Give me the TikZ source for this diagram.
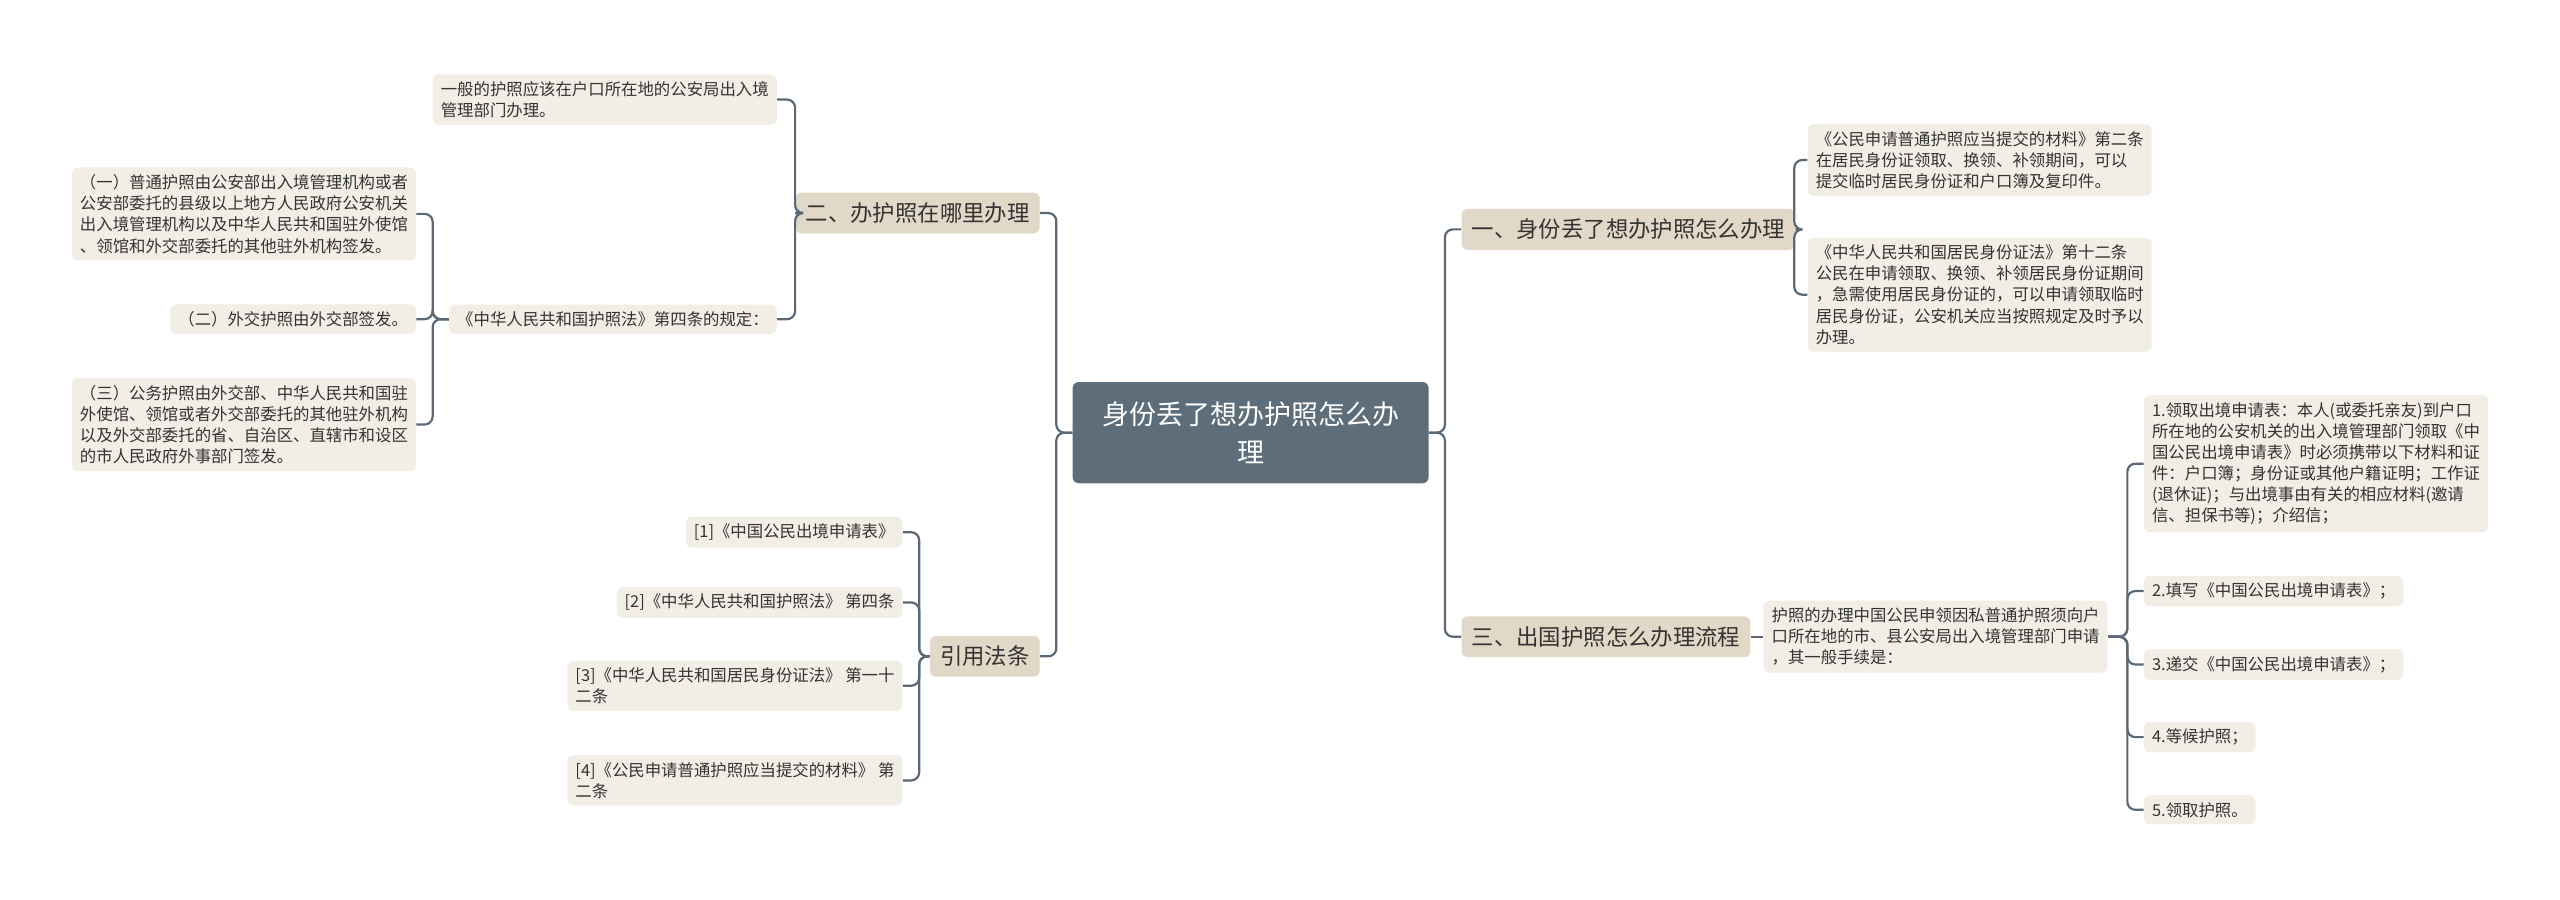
\documentclass[tikz,border=0pt]{standalone}
\usepackage{fontspec}
\setmainfont{Noto Sans CJK SC}
\begin{document}
\begin{tikzpicture}[x=0.8165pt,y=-0.8165pt,
 leaf/.style={fill=leafc,rounded corners=3pt,align=left,inner xsep=4pt,inner ysep=3.5pt,font=\fontsize{8.2}{10.6}\selectfont,text=txt},
 lone/.style={fill=l1c,rounded corners=3pt,inner xsep=5pt,inner ysep=5pt,font=\fontsize{11.2}{14}\selectfont,text=txt},
 conn/.style={draw=linec,line width=1.1pt,rounded corners=4pt}]
\definecolor{leafc}{HTML}{F2EEE6}
\definecolor{l1c}{HTML}{E2D8C8}
\definecolor{linec}{HTML}{5A6975}
\definecolor{txt}{HTML}{333333}
\definecolor{cen}{HTML}{5D6E7A}
\useasboundingbox[fill=white] (0,0) rectangle (1568,551);
% center
\node[fill=cen,rounded corners=3pt,text=white,align=center,minimum width=218*0.8165pt,minimum height=62*0.8165pt,font=\fontsize{13.5}{19}\selectfont] (c) at (766,265) {身份丢了想办护照怎么办\\理};
% level1
\node[lone,anchor=east] (b2) at (637,130.5) {二、办护照在哪里办理};
\node[lone,anchor=east] (yy) at (637,402) {引用法条};
\node[lone,anchor=west] (b1) at (895,140.5) {一、身份丢了想办护照怎么办理};
\node[lone,anchor=west] (b3) at (895,390) {三、出国护照怎么办理流程};
% left leaves
\node[leaf,anchor=east] (g1) at (476,61) {一般的护照应该在户口所在地的公安局出入境\\管理部门办理。};
\node[leaf,anchor=east] (g2) at (476,195.5) {《中华人民共和国护照法》第四条的规定：};
\node[leaf,anchor=east] (h1) at (255,131) {（一）普通护照由公安部出入境管理机构或者\\公安部委托的县级以上地方人民政府公安机关\\出入境管理机构以及中华人民共和国驻外使馆\\、领馆和外交部委托的其他驻外机构签发。};
\node[leaf,anchor=east] (h2) at (255,195.5) {（二）外交护照由外交部签发。};
\node[leaf,anchor=east] (h3) at (255,260) {（三）公务护照由外交部、中华人民共和国驻\\外使馆、领馆或者外交部委托的其他驻外机构\\以及外交部委托的省、自治区、直辖市和设区\\的市人民政府外事部门签发。};
\node[leaf,anchor=east] (r1) at (553,326) {[1]《中国公民出境申请表》};
\node[leaf,anchor=east] (r2) at (553,369) {[2]《中华人民共和国护照法》 第四条};
\node[leaf,anchor=east] (r3) at (553,420) {[3]《中华人民共和国居民身份证法》 第一十\\二条};
\node[leaf,anchor=east] (r4) at (553,478) {[4]《公民申请普通护照应当提交的材料》 第\\二条};
% right leaves
\node[leaf,anchor=west] (a1) at (1107,98) {《公民申请普通护照应当提交的材料》第二条\\ 在居民身份证领取、换领、补领期间，可以\\提交临时居民身份证和户口簿及复印件。};
\node[leaf,anchor=west] (a2) at (1107,180.5) {《中华人民共和国居民身份证法》第十二条\\公民在申请领取、换领、补领居民身份证期间\\，急需使用居民身份证的，可以申请领取临时\\居民身份证，公安机关应当按照规定及时予以\\办理。};
\node[leaf,anchor=west] (p) at (1080,390) {护照的办理中国公民申领因私普通护照须向户\\口所在地的市、县公安局出入境管理部门申请\\，其一般手续是：};
\node[leaf,anchor=west] (s1) at (1313,284) {1.领取出境申请表：本人(或委托亲友)到户口\\所在地的公安机关的出入境管理部门领取《中\\国公民出境申请表》时必须携带以下材料和证\\件：户口簿；身份证或其他户籍证明；工作证\\(退休证)；与出境事由有关的相应材料(邀请\\信、担保书等)；介绍信；};
\node[leaf,anchor=west] (s2) at (1313,362) {2.填写《中国公民出境申请表》；};
\node[leaf,anchor=west] (s3) at (1313,407) {3.递交《中国公民出境申请表》；};
\node[leaf,anchor=west] (s4) at (1313,451.5) {4.等候护照；};
\node[leaf,anchor=west] (s5) at (1313,496) {5.领取护照。};
% connectors
\foreach \t in {b1,b3} \draw[conn] (c.east) -- (885,265) |- (\t.west);
\foreach \t in {b2,yy} \draw[conn] (c.west) -- (647,265) |- (\t.east);
\foreach \t in {g1,g2} \draw[conn] (b2.west) -- (487,130.5) |- (\t.east);
\foreach \t in {h1,h2,h3} \draw[conn] (g2.west) -- (265,195.5) |- (\t.east);
\foreach \t in {r1,r2,r3,r4} \draw[conn] (yy.west) -- (563,402) |- (\t.east);
\foreach \t in {a1,a2} \draw[conn] (b1.east) -- (1099,140.5) |- (\t.west);
\draw[conn] (b3.east) -- (p.west);
\foreach \t in {s1,s2,s3,s4,s5} \draw[conn] (p.east) -- (1303,390) |- (\t.west);
\end{tikzpicture}
\end{document}
